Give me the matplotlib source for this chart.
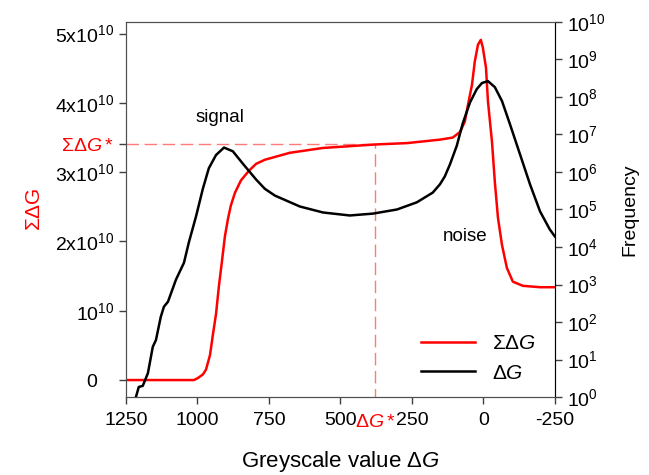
import matplotlib
matplotlib.use("Agg")
import matplotlib.pyplot as plt
import numpy as np

plt.rcParams['font.family'] = ['Liberation Sans', 'DejaVu Sans']
plt.rcParams['mathtext.fontset'] = 'custom'
plt.rcParams['mathtext.rm'] = 'Liberation Sans'
plt.rcParams['mathtext.it'] = 'Liberation Sans:italic'

# cumulative sum (left axis, units of 1e10)
sum_x = [1250, 1012, 998, 981, 970, 956, 946, 935, 925, 914, 904, 893, 883, 869, 848,
         820, 795, 764, 729, 677, 561, 379, 267, 152, 107, 82, 65, 54, 40, 30, 19, 9,
         2, -9, -16, -30, -40, -51, -65, -82, -103, -138, -198, -250]
sum_y = [0, 0, 0.03, 0.08, 0.15, 0.36, 0.65, 0.95, 1.35, 1.72, 2.07, 2.33, 2.52, 2.70,
         2.88, 3.02, 3.12, 3.18, 3.22, 3.28, 3.35, 3.40, 3.42, 3.47, 3.50, 3.58, 3.73,
         3.97, 4.26, 4.60, 4.84, 4.91, 4.80, 4.51, 4.02, 3.44, 2.86, 2.34, 1.95, 1.62,
         1.42, 1.36, 1.34, 1.34]

# histogram (right axis, log10 of frequency)
freq_x = [1222, 1215, 1205, 1191, 1173, 1156, 1145, 1128, 1117, 1103, 1075, 1047, 1030,
          1005, 981, 960, 935, 907, 876, 841, 795, 764, 729, 642, 561, 467, 386, 302,
          233, 177, 152, 135, 117, 93, 72, 47, 23, 5, -16, -40, -65, -93, -128, -163,
          -198, -232, -250]
freq_log10 = [-0.2, 0.0, 0.27, 0.30, 0.64, 1.34, 1.52, 2.14, 2.41, 2.54, 3.13, 3.58, 4.12,
              4.81, 5.55, 6.10, 6.45, 6.65, 6.55, 6.22, 5.80, 5.55, 5.37, 5.08, 4.92, 4.84,
              4.89, 5.00, 5.19, 5.45, 5.67, 5.88, 6.20, 6.70, 7.30, 7.85, 8.21, 8.37, 8.42,
              8.26, 7.89, 7.27, 6.47, 5.67, 4.95, 4.47, 4.28]

dg_star = 379
sum_star = 3.40

fig = plt.figure(figsize=(6.49, 4.75), dpi=100)
ax = fig.add_axes([0.194, 0.164, 0.661, 0.790])
ax2 = ax.twinx()

l1, = ax.plot(sum_x, np.array(sum_y) * 1e10, color='#ff0000', lw=1.8, zorder=3)
l2, = ax2.plot(freq_x, np.power(10.0, freq_log10), color='black', lw=1.8)

# threshold guides
dash = dict(color='#ff7a7a', lw=1.0, dashes=(9, 4))
ax.plot([1250, dg_star], [sum_star * 1e10] * 2, **dash)
ax.plot([dg_star, dg_star], [-0.3e10, sum_star * 1e10], **dash)

ax.set_xlim(1250, -250)
ax.set_ylim(-0.246e10, 5.17e10)
ax2.set_yscale('log')
ax2.set_ylim(1, 1e10)

ax.set_xticks([1250, 1000, 750, 500, 250, 0, -250])
ax.set_xticklabels(['1250', '1000', '750', '500', '250', '0', '-250'])
yt = [0, 1e10, 2e10, 3e10, sum_star * 1e10, 4e10, 5e10]
ax.set_yticks(yt)
ax.set_yticklabels(['0   ', '$10^{10}$', '2x$10^{10}$', '3x$10^{10}$',
                    r'$\Sigma\mathit{ΔG*}$', '4x$10^{10}$', '5x$10^{10}$'])
ax.get_yticklabels()[4].set_color('#ff0000')
ax.yaxis.get_major_ticks()[4].tick1line.set_color('#ff7a7a')

ax2.set_yticks([10.0 ** k for k in range(11)])
ax2.set_yticklabels(['$10^{%d}$' % k for k in range(11)])
ax2.minorticks_off()

for a in (ax, ax2):
    a.tick_params(direction='out', length=5, width=1, labelsize=14, color='#404040')
    for s in a.spines.values():
        s.set_color('#505050')
ax.tick_params(axis='x', pad=6)
ax2.spines['right'].set_color('black')

ax.text(dg_star, -0.045, r'$\mathit{ΔG*}$', color='#ff0000', fontsize=14,
        transform=ax.get_xaxis_transform(), ha='center', va='top')

ax.set_xlabel('Greyscale value Δ' + r'$\mathit{G}$', fontsize=16, labelpad=14)
ax.set_ylabel(r'$\Sigma\mathit{Δ}$G', color='#ff0000', fontsize=15, labelpad=8)
ax2.set_ylabel('Frequency', fontsize=14, labelpad=12)

ax.text(921, 3.79e10, 'signal', fontsize=13.5, ha='center', va='center')
ax.text(65, 2.07e10, 'noise', fontsize=13.5, ha='center', va='center')

ax.legend([l1, l2], [r'$\Sigma\mathit{ΔG}$', r'$\mathit{ΔG}$'], loc='lower right',
          frameon=False, fontsize=15, handlelength=2.6, borderaxespad=0.3,
          bbox_to_anchor=(0.99, 0.0))

fig.savefig('out.png', dpi=100)
